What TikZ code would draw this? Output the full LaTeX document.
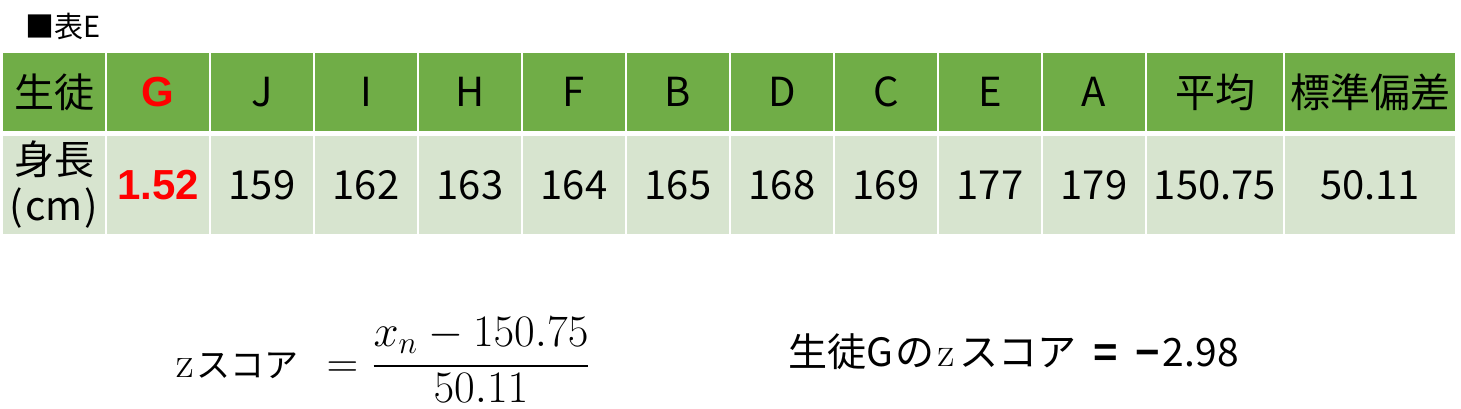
\documentclass[tikz,border=0pt]{standalone}
\usepackage{fix-cm}
\usepackage[no-math]{fontspec}
\setmainfont{Noto Sans CJK JP}
\newfontfamily\arialfont{Liberation Sans}
\usepackage{amsmath}
\usepackage{tikz}
\usetikzlibrary{positioning}
\definecolor{headgreen}{HTML}{70AD47}
\definecolor{rowgreen}{HTML}{D7E4CF}
\definecolor{markred}{HTML}{FF0000}

\begin{document}
\begin{tikzpicture}[x=0.5pt, y=-0.5pt,
	headcell/.style={rectangle, fill=headgreen, inner sep=0pt, outer sep=0pt, minimum width=51pt, minimum height=39pt, font=\fontsize{20}{23}\selectfont},
	datacell/.style={rectangle, fill=rowgreen, inner sep=0pt, outer sep=0pt, minimum width=51pt, minimum height=49pt, font=\fontsize{20}{23}\selectfont},
	redcell/.style={text=markred, font=\fontsize{21}{24}\selectfont\arialfont\bfseries}]
	\useasboundingbox (0,0) rectangle (1461,408);

	% title
	\node[anchor=west, inner sep=0pt, font=\fontsize{14.5}{17}\selectfont] (title) at (25,26) {■表E};

	% header row
	\node[headcell] (h1) at (54,92)                            {生徒};
	\node[headcell, redcell] (h2) [right=1pt of h1]            {G};
	\node[headcell] (h3) [right=1pt of h2]                     {J};
	\node[headcell] (h4) [right=1pt of h3]                     {I};
	\node[headcell] (h5) [right=1pt of h4]                     {H};
	\node[headcell] (h6) [right=1pt of h5]                     {F};
	\node[headcell] (h7) [right=1pt of h6]                     {B};
	\node[headcell] (h8) [right=1pt of h7]                     {D};
	\node[headcell] (h9) [right=1pt of h8]                     {C};
	\node[headcell] (h10) [right=1pt of h9]                    {E};
	\node[headcell] (h11) [right=1pt of h10]                   {A};
	\node[headcell, minimum width=68pt] (h12) [right=1pt of h11] {平均};
	\node[headcell, minimum width=85pt] (h13) [right=1pt of h12] {標準偏差};

	% data row
	\node[datacell, align=center] (d1) [below=2.5pt of h1]     {身長\\(\kern1pt cm\kern1pt)};
	\node[datacell, redcell] (d2) [below=2.5pt of h2]          {1.52};
	\node[datacell] (d3) [below=2.5pt of h3]                   {159};
	\node[datacell] (d4) [below=2.5pt of h4]                   {162};
	\node[datacell] (d5) [below=2.5pt of h5]                   {163};
	\node[datacell] (d6) [below=2.5pt of h6]                   {164};
	\node[datacell] (d7) [below=2.5pt of h7]                   {165};
	\node[datacell] (d8) [below=2.5pt of h8]                   {168};
	\node[datacell] (d9) [below=2.5pt of h9]                   {169};
	\node[datacell] (d10) [below=2.5pt of h10]                 {177};
	\node[datacell] (d11) [below=2.5pt of h11]                 {179};
	\node[datacell, minimum width=68pt] (d12) [below=2.5pt of h12] {150.75};
	\node[datacell, minimum width=85pt] (d13) [below=2.5pt of h13] {50.11};

	% formulas
	\node[anchor=base, inner sep=0pt, font=\fontsize{22.5}{26}\selectfont] (zfrac) at (481,377)
		{$\displaystyle\frac{x_n-150.75}{\raisebox{2.5pt}{$50.11$}}$};
	\node[inner sep=0pt, font=\fontsize{22}{25}\selectfont] (zlabel) [base left=6pt of zfrac]
		{$\mathrm{z}$\kern1.5pt{\fontsize{17}{20}\selectfont スコア}\kern14pt$=$};
	\node[anchor=base west, inner sep=0pt, font=\fontsize{19.5}{23}\selectfont] (zresult) at (788,366)
		{生徒G\kern1ptの\kern1.5pt{\fontsize{21}{25}\selectfont$\mathrm{z}$}\kern2.5ptスコア\kern8.75pt{\arialfont\bfseries\fontsize{21}{25}\selectfont =}\kern8.5pt{\arialfont\bfseries\fontsize{21}{25}\selectfont −}\kern1.5pt 2.98};
\end{tikzpicture}
\end{document}
